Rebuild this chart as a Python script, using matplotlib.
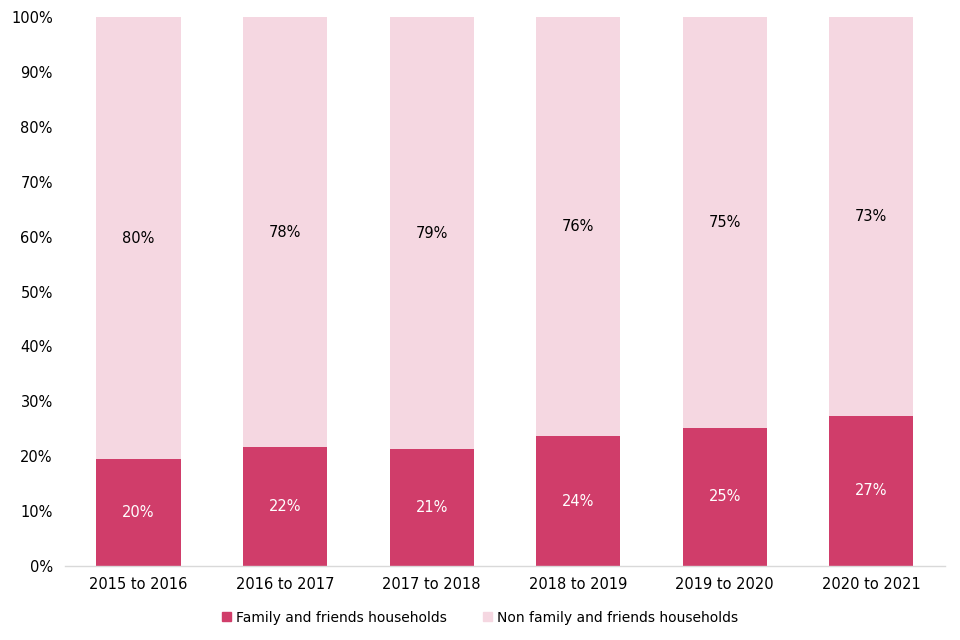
import matplotlib
matplotlib.use("Agg")
import matplotlib.pyplot as plt
from matplotlib.ticker import FuncFormatter
from matplotlib.patches import Patch

categories = ["2015 to 2016", "2016 to 2017", "2017 to 2018", "2018 to 2019", "2019 to 2020", "2020 to 2021"]
family = [19.4, 21.6, 21.2, 23.6, 25.1, 27.3]
non_family = [80.6, 78.4, 78.8, 76.4, 74.9, 72.7]
family_labels = ["20%", "22%", "21%", "24%", "25%", "27%"]
non_family_labels = ["80%", "78%", "79%", "76%", "75%", "73%"]

dark = "#D03D6A"
light = "#F5D7E1"

plt.rcParams['font.family'] = ['DejaVu Sans']
fig = plt.figure(figsize=(9.6, 6.4), dpi=100)
ax = fig.add_axes([0.068, 0.116, 0.916, 0.857])

x = list(range(len(categories)))
w = 0.575
ax.bar(x, family, width=w, color=dark, zorder=2)
ax.bar(x, non_family, width=w, bottom=family, color=light, zorder=2)

fs = 10.5
for i in x:
    ax.text(i, family[i] / 2, family_labels[i], ha="center", va="center", color="white", fontsize=fs)
    ax.text(i, family[i] + non_family[i] / 2, non_family_labels[i], ha="center", va="center", color="black", fontsize=fs)

ax.set_xlim(-0.5, len(categories) - 0.5)
ax.set_ylim(0, 100)
ax.set_yticks(range(0, 101, 10))
ax.yaxis.set_major_formatter(FuncFormatter(lambda v, p: f"{int(v)}%"))
ax.set_xticks(x)
ax.set_xticklabels(categories)
ax.tick_params(axis="both", length=0, labelsize=fs, colors="black")
ax.tick_params(axis="x", pad=8)
ax.tick_params(axis="y", pad=9)
for s in ["top", "right", "left"]:
    ax.spines[s].set_visible(False)
ax.spines["bottom"].set_color("#D9D9D9")
ax.spines["bottom"].set_linewidth(1.0)

handles = [Patch(color=dark, label="Family and friends households"),
           Patch(color=light, label="Non family and friends households")]
fig.legend(handles=handles, loc="center", bbox_to_anchor=(0.5, 0.035), ncol=2, frameon=False,
           fontsize=10, handlelength=0.65, handleheight=0.65, handletextpad=0.35, columnspacing=2.6)

fig.savefig("out.png", dpi=100)
